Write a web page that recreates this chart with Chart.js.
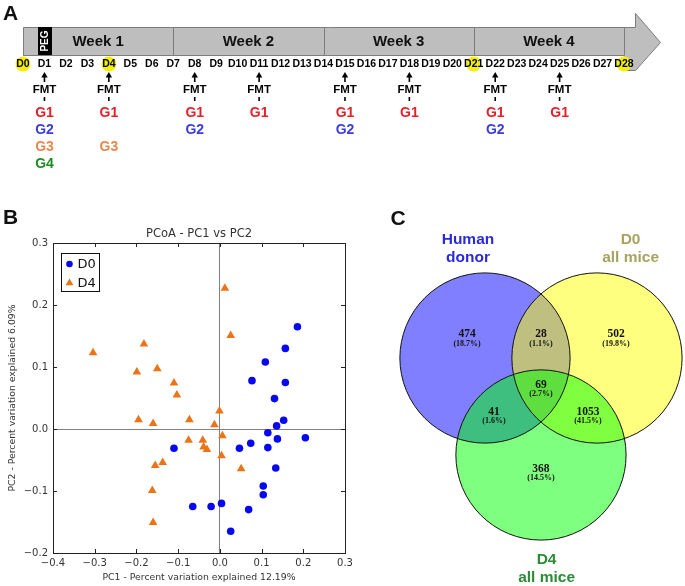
<!DOCTYPE html>
<html>
<head>
<meta charset="utf-8">
<script src="https://cdn.jsdelivr.net/npm/chart.js@4.4.1/dist/chart.umd.min.js"></script>
<style>
  html, body { margin: 0; padding: 0; background: #fff; }
  #wrap { position: relative; width: 685px; height: 586px; overflow: hidden; }
  canvas { position: absolute; }
  #timeline { left: 0; top: 0; }
  #pcoa { left: 0; top: 200px; }
  #venn { left: 345px; top: 200px; }
</style>
</head>
<body>
<div id="wrap">
  <canvas id="timeline" width="685" height="195"></canvas>
  <canvas id="pcoa" width="365" height="386"></canvas>
  <canvas id="venn" width="340" height="386"></canvas>
</div>
<script>
const SANS = "'Liberation Sans', Arial, sans-serif";
const DEJAVU = "'DejaVu Sans', sans-serif";
const SERIF = "'Liberation Serif', 'Times New Roman', serif";

// ---------- panel A : timeline ----------
const dayLabels = ['D0','D1','D2','D3','D4','D5','D6','D7','D8','D9','D10','D11','D12','D13','D14',
                   'D15','D16','D17','D18','D19','D20','D21','D22','D23','D24','D25','D26','D27','D28'];
const weekNames = ['Week 1', 'Week 2', 'Week 3', 'Week 4'];
const weekStartDays = [0, 7, 14, 21];
const sampleDays = [0, 4, 21, 28];
const pegDay = 1;
const fmtDays = [1, 4, 8, 11, 15, 18, 22, 25];
const fmtGroups = [
  ['G1', 'G2', 'G3', 'G4'],
  ['G1', '', 'G3'],
  ['G1', 'G2'],
  ['G1'],
  ['G1', 'G2'],
  ['G1'],
  ['G1', 'G2'],
  ['G1']
];
const groupColors = { G1: '#e5202a', G2: '#3b3bd8', G3: '#e8874c', G4: '#1d8a22' };

// ---------- panel B : PCoA ----------
const d0PC1 = [0.186, 0.157, 0.109, 0.077, 0.157, 0.131, 0.153, 0.136, 0.115, 0.138, 0.205, 0.074,
               0.115, 0.047, -0.110, 0.134, 0.104, 0.104, -0.065, -0.021, 0.004, 0.069, 0.026];
const d0PC2 = [0.165, 0.130, 0.108, 0.078, 0.075, 0.049, 0.014, 0.005, -0.006, -0.016, -0.014, -0.023,
               -0.030, -0.031, -0.031, -0.063, -0.092, -0.106, -0.125, -0.125, -0.120, -0.130, -0.165];
const d4PC1 = [0.012, 0.026, -0.304, -0.182, -0.199, -0.150, -0.110, -0.103, -0.195, -0.160, -0.073, -0.001,
               -0.013, -0.075, -0.041, 0.006, -0.039, -0.031, 0.004, -0.137, -0.155, 0.051, -0.162, -0.160];
const d4PC2 = [0.227, 0.151, 0.123, 0.137, 0.092, 0.097, 0.074, 0.055, 0.015, 0.009, 0.015, 0.029,
               0.007, -0.018, -0.018, -0.011, -0.029, -0.033, -0.043, -0.054, -0.059, -0.064, -0.099, -0.151];
const pcoaTitle = 'PCoA - PC1 vs PC2';
const pc1Label = 'PC1 - Percent variation explained 12.19%';
const pc2Label = 'PC2 - Percent variation explained 6.09%';

// ---------- panel C : Venn ----------
const vennTitles = [['Human', 'donor'], ['D0', 'all mice'], ['D4', 'all mice']];
const vennCounts = [474, 28, 502, 41, 69, 1053, 368];
const vennPercents = ['(18.7%)', '(1.1%)', '(19.8%)', '(1.6%)', '(2.7%)', '(41.5%)', '(14.5%)'];

// layout of the venn (unit = distance between circle centres)
const vennCentres = [[-0.5, 0], [0.5, 0], [0, -0.866]];
const vennRadius = 0.76;
const vennFills = ['rgba(0,0,255,0.5)', 'rgba(255,255,0,0.5)', 'rgba(0,255,0,0.5)'];
const vennTitleColors = ['#2a2ad8', '#a8a460', '#2a8c34'];
const vennTitlePos = [[-0.652, 1.06], [0.80, 1.06], [0.05, -1.80]];
const vennLabelPos = [[-0.66, 0.21], [0, 0.21], [0.67, 0.21], [-0.42, -0.48], [0, -0.24], [0.42, -0.48], [0, -0.99]];

// ================= A =================
const timelinePlugin = {
  id: 'timeline',
  afterDraw(chart) {
    const ctx = chart.ctx, xs = chart.scales.x, ys = chart.scales.y;
    const X = d => xs.getPixelForValue(d);
    const Y = v => ys.getPixelForValue(v);
    const r = v => Math.round(v) + 0.5;
    ctx.save();
    ctx.fillStyle = '#111';
    ctx.font = 'bold 21px ' + SANS;
    ctx.textAlign = 'left';
    ctx.textBaseline = 'middle';
    ctx.fillText('A', 3, Y(14));

    // big arrow
    ctx.beginPath();
    ctx.moveTo(r(X(0)), r(Y(27)));
    ctx.lineTo(r(X(28.5)), r(Y(27)));
    ctx.lineTo(r(X(28.5)), r(Y(13)));
    ctx.lineTo(r(X(29.7)), r(Y(41.5)));
    ctx.lineTo(r(X(28.5)), r(Y(70)));
    ctx.lineTo(r(X(0)), r(Y(70)));
    ctx.closePath();
    ctx.fillStyle = '#bebebe';
    ctx.fill();
    ctx.strokeStyle = '#7d7d7d';
    ctx.lineWidth = 1;
    ctx.stroke();

    // white day strip
    ctx.fillStyle = '#fff';
    ctx.fillRect(X(0) - 2, r(Y(55)) + 0.5, X(28) - X(0) + 2, 17);

    ctx.beginPath();
    ctx.moveTo(r(X(0)), r(Y(55)));
    ctx.lineTo(r(X(28)), r(Y(55)));
    [7, 14, 21, 28].forEach(d => {
      ctx.moveTo(r(X(d)), r(Y(27)));
      ctx.lineTo(r(X(d)), r(Y(55)));
    });
    ctx.stroke();

    // PEG
    ctx.fillStyle = '#000';
    ctx.fillRect(X(pegDay - 0.3), Y(27), X(pegDay + 0.35) - X(pegDay - 0.3), Y(55) - Y(27));
    ctx.save();
    ctx.translate(X(pegDay + 0.02), Y(41));
    ctx.rotate(-Math.PI / 2);
    ctx.fillStyle = '#fff';
    ctx.font = 'bold 10px ' + SANS;
    ctx.textAlign = 'center';
    ctx.textBaseline = 'middle';
    ctx.fillText('PEG', 0, 0);
    ctx.restore();

    // week names
    ctx.fillStyle = '#111';
    ctx.font = 'bold 15px ' + SANS;
    ctx.textAlign = 'center';
    weekNames.forEach((w, i) => ctx.fillText(w, X(weekStartDays[i] + 3.5), Y(42)));

    // sampling days
    ctx.fillStyle = '#f5ef00';
    sampleDays.forEach(d => {
      ctx.beginPath();
      ctx.arc(X(d), Y(64), 7.5, 0, Math.PI * 2);
      ctx.fill();
    });

    ctx.fillStyle = '#000';
    ctx.font = 'bold 10.5px ' + SANS;
    dayLabels.forEach((lab, d) => ctx.fillText(lab, X(d), Y(64.5)));

    // FMT arrows and groups
    fmtDays.forEach((d, i) => {
      const cx = X(d);
      ctx.strokeStyle = '#000';
      ctx.lineWidth = 1.6;
      ctx.beginPath();
      ctx.moveTo(cx, Y(82));
      ctx.lineTo(cx, Y(75));
      ctx.stroke();
      ctx.beginPath();
      ctx.moveTo(cx - 3.2, Y(77.5));
      ctx.lineTo(cx, Y(72));
      ctx.lineTo(cx + 3.2, Y(77.5));
      ctx.closePath();
      ctx.fillStyle = '#000';
      ctx.fill();
      ctx.font = 'bold 11.5px ' + SANS;
      ctx.fillText('FMT', cx, Y(90));
      ctx.beginPath();
      ctx.moveTo(cx, Y(97));
      ctx.lineTo(cx, Y(101));
      ctx.stroke();
      ctx.font = 'bold 14px ' + SANS;
      fmtGroups[i].forEach((g, k) => {
        if (!g) return;
        ctx.fillStyle = groupColors[g];
        ctx.fillText(g, cx, Y(113.5 + k * 17));
      });
    });
    ctx.restore();
  }
};

new Chart(document.getElementById('timeline'), {
  type: 'scatter',
  data: { datasets: [] },
  options: {
    responsive: false,
    animation: false,
    layout: { padding: { left: 23, right: 61, top: 0, bottom: 0 } },
    plugins: { legend: { display: false }, tooltip: { enabled: false } },
    scales: {
      x: { type: 'linear', min: 0, max: 28, display: false },
      y: { type: 'linear', min: 0, max: 195, reverse: true, display: false }
    }
  },
  plugins: [timelinePlugin]
});

// ================= B =================
const toPoints = (xs, ys) => xs.map((v, i) => ({ x: v, y: ys[i] }));
const tickFmt = v => (v < -1e-9 ? '\u2212' : '') + Math.abs(v).toFixed(1);
const zeroLine = c => (c.tick && Math.abs(c.tick.value) < 1e-9) ? '#808080' : 'rgba(0,0,0,0)';

const pcoaPlugin = {
  id: 'pcoaExtras',
  afterDraw(chart) {
    const { ctx, chartArea: a, scales: { x, y } } = chart;
    const r = v => Math.round(v) + 0.5;
    ctx.save();
    ctx.strokeStyle = '#222';
    ctx.lineWidth = 1;
    ctx.strokeRect(r(a.left), r(a.top), Math.round(a.right - a.left), Math.round(a.bottom - a.top));
    ctx.beginPath();
    x.ticks.forEach(t => {
      const p = r(x.getPixelForValue(t.value));
      ctx.moveTo(p, a.bottom); ctx.lineTo(p, a.bottom - 4);
      ctx.moveTo(p, a.top); ctx.lineTo(p, a.top + 4);
    });
    y.ticks.forEach(t => {
      const p = r(y.getPixelForValue(t.value));
      ctx.moveTo(a.left, p); ctx.lineTo(a.left + 4, p);
      ctx.moveTo(a.right, p); ctx.lineTo(a.right - 4, p);
    });
    ctx.stroke();

    // title
    ctx.fillStyle = '#333';
    ctx.font = '11.5px ' + DEJAVU;
    ctx.textAlign = 'center';
    ctx.textBaseline = 'middle';
    ctx.fillText(pcoaTitle, (a.left + a.right) / 2, a.top - 9);

    // legend
    const lx = r(a.left + 8), ly = r(a.top + 10);
    ctx.fillStyle = '#fff';
    ctx.fillRect(lx, ly, 38, 38);
    ctx.strokeStyle = '#111';
    ctx.strokeRect(lx, ly, 38, 38);
    chart.data.datasets.forEach((ds, i) => {
      const my = ly + 10.5 + i * 19;
      ctx.fillStyle = ds.backgroundColor;
      ctx.strokeStyle = ds.borderColor;
      Chart.helpers.drawPoint(ctx, { pointStyle: ds.pointStyle, radius: i ? 4.5 : 3.3, rotation: 0, borderWidth: 0 }, lx + 8, my);
      ctx.fillStyle = '#111';
      ctx.font = '13px ' + DEJAVU;
      ctx.textAlign = 'left';
      ctx.fillText(ds.label, lx + 16, my + 0.5);
    });

    ctx.fillStyle = '#111';
    ctx.font = 'bold 21px ' + SANS;
    ctx.textAlign = 'left';
    ctx.fillText('B', 3, 18);
    ctx.restore();
  }
};

new Chart(document.getElementById('pcoa'), {
  type: 'scatter',
  data: {
    datasets: [
      { label: 'D0', data: toPoints(d0PC1, d0PC2), pointStyle: 'circle', pointRadius: 3.8,
        backgroundColor: '#0808f0', borderColor: '#0808f0', borderWidth: 0 },
      { label: 'D4', data: toPoints(d4PC1, d4PC2), pointStyle: 'triangle', pointRadius: 5,
        backgroundColor: '#ec7418', borderColor: '#ec7418', borderWidth: 0 }
    ]
  },
  options: {
    responsive: false,
    animation: false,
    layout: { padding: { top: 43, right: 20, left: 0, bottom: 0 } },
    plugins: { legend: { display: false }, tooltip: { enabled: false } },
    scales: {
      x: {
        type: 'linear', min: -0.4, max: 0.3,
        ticks: { stepSize: 0.1, callback: tickFmt, color: '#333', font: { family: DEJAVU, size: 10 }, padding: 4, maxRotation: 0 },
        grid: { color: zeroLine, drawTicks: false, lineWidth: 1 },
        border: { display: false },
        title: { display: true, text: pc1Label, color: '#333', font: { family: DEJAVU, size: 9.3 }, padding: { top: 0, bottom: 3 } },
        afterFit: s => { s.height = 33; }
      },
      y: {
        type: 'linear', min: -0.2, max: 0.3,
        ticks: { stepSize: 0.1, callback: tickFmt, color: '#333', font: { family: DEJAVU, size: 10 }, padding: 5 },
        grid: { color: zeroLine, drawTicks: false, lineWidth: 1 },
        border: { display: false },
        title: { display: true, text: pc2Label, color: '#333', font: { family: DEJAVU, size: 9.3 }, padding: { top: 7, bottom: 0 } },
        afterFit: s => { s.width = 53; }
      }
    }
  },
  plugins: [pcoaPlugin]
});

// ================= C =================
const vennPlugin = {
  id: 'venn',
  afterDraw(chart) {
    const { ctx, scales: { x, y } } = chart;
    const rad = x.getPixelForValue(vennRadius) - x.getPixelForValue(0);
    ctx.save();
    vennCentres.forEach((c, i) => {
      ctx.beginPath();
      ctx.arc(x.getPixelForValue(c[0]), y.getPixelForValue(c[1]), rad, 0, Math.PI * 2);
      ctx.fillStyle = vennFills[i];
      ctx.fill();
    });
    ctx.strokeStyle = '#111';
    ctx.lineWidth = 1;
    vennCentres.forEach(c => {
      ctx.beginPath();
      ctx.arc(x.getPixelForValue(c[0]), y.getPixelForValue(c[1]), rad, 0, Math.PI * 2);
      ctx.stroke();
    });

    ctx.textAlign = 'center';
    ctx.textBaseline = 'middle';
    ctx.fillStyle = '#111';
    vennCounts.forEach((n, i) => {
      const px = x.getPixelForValue(vennLabelPos[i][0]);
      const py = y.getPixelForValue(vennLabelPos[i][1]);
      ctx.font = 'bold 11.5px ' + SERIF;
      ctx.fillText(String(n), px, py);
      ctx.font = 'bold 8px ' + SERIF;
      ctx.fillText(vennPercents[i], px, py + 9.5);
    });

    ctx.font = 'bold 15.5px ' + SANS;
    vennTitles.forEach((lines, i) => {
      ctx.fillStyle = vennTitleColors[i];
      const px = x.getPixelForValue(vennTitlePos[i][0]);
      const py = y.getPixelForValue(vennTitlePos[i][1]);
      lines.forEach((t, k) => ctx.fillText(t, px, py + k * 18));
    });

    ctx.fillStyle = '#111';
    ctx.font = 'bold 21px ' + SANS;
    ctx.fillText('C', 53, 19);
    ctx.restore();
  }
};

new Chart(document.getElementById('venn'), {
  type: 'scatter',
  data: { datasets: [] },
  options: {
    responsive: false,
    animation: false,
    layout: { padding: 0 },
    plugins: { legend: { display: false }, tooltip: { enabled: false } },
    scales: {
      x: { type: 'linear', min: -1.75, max: 1.286, display: false },
      y: { type: 'linear', min: -2.036, max: 1.411, display: false }
    }
  },
  plugins: [vennPlugin]
});
</script>
</body>
</html>
